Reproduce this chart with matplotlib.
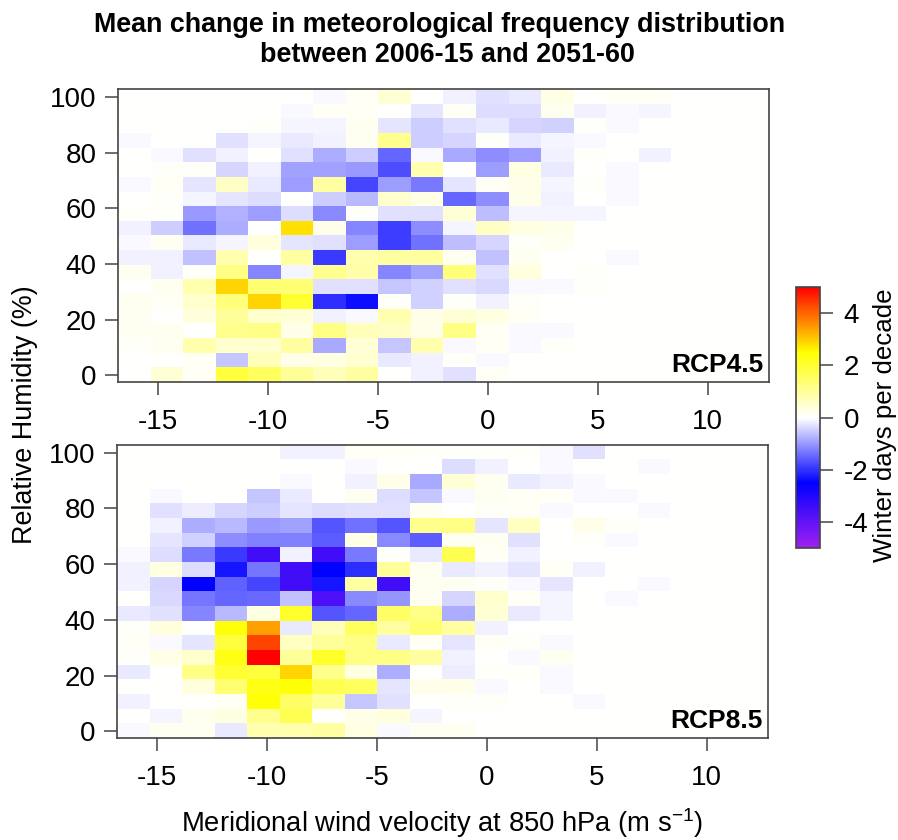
import numpy as np
import matplotlib
matplotlib.use("Agg")
import matplotlib.pyplot as plt
from matplotlib.colors import LinearSegmentedColormap, Normalize

plt.rcParams['font.family'] = ['Liberation Sans', 'DejaVu Sans']
plt.rcParams['mathtext.fontset'] = 'custom'
plt.rcParams['mathtext.rm'] = 'Liberation Sans'
plt.rcParams['mathtext.default'] = 'regular'
plt.rcParams['axes.unicode_minus'] = False

# bin edges of the 20 x 20 frequency grid
wind_edges = np.linspace(-16.82, 12.78, 21)
rh_edges = np.linspace(-2.4, 102.9, 21)

x_ticks = [-15, -10, -5, 0, 5, 10]
y_ticks = [0, 20, 40, 60, 80, 100]
cbar_ticks = [-4, -2, 0, 2, 4]

# rows run from top (high RH) to bottom, last 3 wind columns are empty
rcp45 = [
    [0, 0, 0, 0, 0, 0, -0.07, 0.1, 0.4, 0, -0.15, -0.3, -0.2, 0.25, 0, 0.08, 0.08],
    [0, 0, 0, 0.03, 0.02, -0.07, 0.1, 0.08, 0, -0.25, 0.1, -0.35, -0.35, 0.15, -0.12, -0.07, -0.1],
    [0, 0, 0, 0, 0.05, -0.08, -0.08, 0.15, -0.25, -0.5, -0.3, -0.2, -0.4, -0.45, 0.06, -0.06, 0],
    [-0.07, 0, 0.03, -0.3, -0.08, -0.2, -0.12, 0.15, 1.1, -0.5, -0.42, 0.05, -0.2, -0.1, -0.06, 0.03, 0],
    [0, -0.07, -0.28, -0.12, 0, -0.3, -0.8, -0.5, -1.5, -0.07, -0.85, -1.1, -0.95, -0.12, 0.06, 0, -0.12],
    [0, 0.07, 0.07, -0.4, -0.15, -0.9, -0.9, -1.0, -1.75, 0.8, 0, -0.95, 0.3, -0.2, 0, -0.07, 0],
    [-0.07, 0.1, -0.25, 0.55, -0.2, -0.95, 0.9, -1.8, -0.95, -1.3, -0.25, 0.08, 0.2, -0.08, 0.04, -0.07, 0],
    [0.03, 0.05, -0.08, -0.25, -0.35, 0.03, -0.5, -0.7, 0.5, 0.25, -1.5, -1.1, 0.2, -0.15, 0, -0.07, 0],
    [0.05, 0.05, -1.0, -0.75, -0.95, -0.35, -1.15, 0.04, -0.3, -0.3, 0.4, -0.65, -0.08, -0.1, -0.08, 0.03, 0],
    [-0.15, -0.5, -1.4, -0.8, 0, 2.8, 0.2, -1.2, -1.9, -1.1, -0.1, 0.55, 0.3, 0.2, 0, 0, 0],
    [-0.07, 0.12, -0.2, -0.08, 0.35, -0.25, -0.28, -0.95, -1.9, -1.4, -0.65, -0.4, 0.04, 0.12, 0.03, 0, 0],
    [-0.12, -0.12, -0.6, 0.8, 0.03, 0.9, -1.95, 0.8, 0.9, 0.9, 0.15, -0.6, 0.15, 0, 0.03, -0.07, 0],
    [0.12, -0.12, 0.06, 1.2, -1.2, -0.1, 1.1, 0.85, -1.2, -0.9, 1.3, -0.3, 0.35, 0, 0.04, 0, 0],
    [0, 0.15, 0.8, 2.9, 1.4, 1.4, -0.28, -0.3, -0.55, -0.45, -0.3, -0.38, -0.07, -0.07, 0.04, 0, 0],
    [0.12, 0.1, 0.5, 1.3, 2.9, 2.0, -2.05, -2.35, 0.04, -0.45, 0.05, -0.15, 0.07, 0.03, 0.03, 0, 0],
    [0.15, 0, 0.35, 1.0, 0.5, 0.4, -0.15, -0.07, 0.8, 0.2, 0.4, 0.3, 0.08, 0, 0, 0, 0],
    [0.15, 0.15, 0, 1.1, 1.2, 0.2, 1.2, 0.7, 0.55, 0.2, 1.2, 0.1, -0.06, -0.06, 0, 0, 0],
    [0.05, 0.15, 0.8, 0.5, 0.5, 0.9, -0.85, 0.4, -0.55, 0.8, -0.07, 0.08, -0.07, 0.04, 0, 0, 0],
    [0, 0, 0.1, -0.55, 0.7, 0.2, 0.3, 0.45, -0.2, -0.12, 0.07, -0.06, 0, 0, 0, 0, 0],
    [0, 0.4, 0.1, 1.9, 1.6, 1.0, 0.7, 0.9, 0, -0.12, -0.3, 0.08, 0.02, 0.03, 0.03, 0, 0],
]

rcp85 = [
    [0, 0, 0, 0.03, 0, -0.12, -0.12, 0.1, 0.1, 0.04, 0.05, 0.06, 0.04, -0.06, -0.28, 0, 0],
    [0, 0, 0, 0, 0, 0, 0.02, -0.05, 0, 0.02, -0.35, -0.15, 0, -0.04, 0, 0, -0.04],
    [0, 0, 0, 0, 0, -0.04, 0.02, -0.12, 0.2, -0.85, 0.4, 0.15, -0.2, -0.15, -0.06, 0, 0],
    [0, -0.04, 0, 0, -0.55, -0.2, 0.02, 0.12, -0.35, -0.55, -0.06, 0.12, 0.1, 0.08, -0.05, -0.05, 0],
    [0, -0.28, -0.18, -0.42, -0.5, -0.25, -0.35, -0.28, -0.28, 0.12, 0.03, 0.06, 0.08, -0.05, 0, 0.02, -0.05],
    [0, -0.15, -0.8, -0.7, -1.0, -0.9, -1.65, -1.4, -1.65, 1.1, 1.2, -0.25, 0.6, 0.03, 0.2, 0.05, 0],
    [0.02, -0.25, -0.45, -1.1, -1.25, -1.25, -1.6, 0.25, -1.15, -1.6, 0.15, 0.12, -0.28, 0.03, 0.06, -0.05, 0],
    [-0.06, -0.35, -1.3, -1.95, -3.5, -0.12, -3.5, -1.3, 0.05, -0.2, 1.7, 0.1, -0.15, 0, 0, 0, 0],
    [-0.12, 0.3, -0.35, -2.3, -1.35, -3.5, -2.5, -2.05, 1.0, 0.15, -0.2, -0.12, -0.25, 0.1, -0.15, 0, 0],
    [-0.12, -0.4, -2.5, -1.55, -1.8, -3.5, -2.3, 0.9, -3.5, 0.12, 0.15, 0.04, -0.05, -0.25, 0, 0, -0.04],
    [0, -0.38, -1.35, -1.5, -1.45, -0.6, -3.7, -1.15, -1.05, 0.15, -0.4, 0.5, 0.1, -0.1, 0.03, -0.05, 0],
    [-0.2, -0.28, -1.2, -0.7, 0.3, 2.1, -1.65, -1.5, 1.5, 1.2, -0.8, 0.4, -0.2, -0.1, 0.03, 0, 0],
    [0.04, 0.35, 0.02, 2.4, 3.4, -0.2, 0.7, 1.6, 0.9, 1.4, 0.9, -0.15, 0.03, 0, 0, 0, 0],
    [0.08, -0.06, -0.25, 1.9, 4.3, 0.6, 1.0, 1.2, -0.2, 0.1, -0.25, 0.1, 0.04, -0.05, 0, 0, 0],
    [0.06, 0.25, 0.5, 2.3, 5.0, 1.0, 2.1, 1.2, 1.2, 0.9, -0.15, 0, -0.05, 0.12, 0, 0, 0],
    [-0.2, 0, 1.2, 2.0, 1.9, 2.9, 1.1, 0.3, -0.8, 0.03, -0.18, 0.04, 0.06, -0.05, 0, 0, 0],
    [0, 0, 0.35, 1.4, 2.3, 2.45, 1.7, 1.6, -0.25, 0.2, 0.2, -0.05, 0, -0.05, 0, 0, 0],
    [-0.12, 0.03, 0.03, 0.08, 2.45, 1.5, 1.0, -0.55, -0.28, 0, 0.05, 0.06, 0.03, 0, -0.05, 0, 0],
    [0, -0.1, 0.18, 0.3, 1.1, 1.7, 0.02, 0.2, 0.35, -0.1, 0.03, 0.02, 0, 0.03, 0, 0, 0],
    [-0.05, 0.12, 0.12, -0.2, 0.8, 0.8, 0.9, 0.3, -0.05, 0.15, 0.15, 0, 0, 0, 0, 0, 0],
]

W, H = 898, 840
BOX = "#444444"
cmap = LinearSegmentedColormap.from_list("rcp", ["#A020F0", "#0000FF", "#FFFFFF", "#FFFF00", "#FF0000"], N=256)
norm = Normalize(-5, 5)


def px_axes(fig, left, top, right, bottom):
    return fig.add_axes([left / W, 1 - bottom / H, (right - left) / W, (bottom - top) / H])


def draw_panel(ax, rows, label):
    vals = np.zeros((20, 20))
    vals[:, :17] = np.array(rows)[::-1]
    mesh = ax.pcolormesh(wind_edges, rh_edges, vals, cmap=cmap, norm=norm, linewidth=0, rasterized=True)
    ax.set_xlim(wind_edges[0], wind_edges[-1])
    ax.set_ylim(rh_edges[0], rh_edges[-1])
    ax.set_xticks(x_ticks, [str(t) for t in x_ticks])
    ax.set_yticks(y_ticks, [str(t) for t in y_ticks])
    ax.tick_params(length=9.5, width=1.1, color=BOX, labelsize=20)
    ax.tick_params(axis="x", pad=10)
    ax.tick_params(axis="y", pad=6)
    for side in ax.spines.values():
        side.set_color(BOX)
        side.set_linewidth(1.2)
    ax.text(0.992, 0.016, label, transform=ax.transAxes, ha="right", va="bottom",
            fontsize=19, fontweight="bold")
    return mesh


fig = plt.figure(figsize=(W / 100, H / 100), dpi=100)

ax1 = px_axes(fig, 118, 89, 769, 382)
ax2 = px_axes(fig, 117, 444.5, 768, 738)
draw_panel(ax1, rcp45, "RCP4.5")
mesh = draw_panel(ax2, rcp85, "RCP8.5")

# title lines are not quite centred on each other in the original
fig.text(440 / W, 1 - 24.5 / H, "Mean change in meteorological frequency distribution",
         ha="center", va="center", fontsize=19.4, fontweight="bold")
fig.text(447 / W, 1 - 55.5 / H, "between 2006-15 and 2051-60",
         ha="center", va="center", fontsize=19.4, fontweight="bold")
fig.text(25 / W, 1 - 415 / H, "Relative Humidity (%)", rotation=90, ha="center", va="center", fontsize=19.4)
fig.text(442 / W, 1 - 823 / H, r"Meridional wind velocity at 850 hPa (m s$^{-1}$)",
         ha="center", va="center", fontsize=19.7)

cax = px_axes(fig, 796, 287, 819.5, 548)
cbar = fig.colorbar(mesh, cax=cax, ticks=cbar_ticks)
cbar.ax.tick_params(length=9.5, width=1.1, color=BOX, labelsize=20, pad=8)
cbar.outline.set_edgecolor(BOX)
cbar.outline.set_linewidth(1.2)
fig.text(885 / W, 1 - 425 / H, "Winter days per decade", rotation=90, ha="center", va="center", fontsize=18.6)

fig.savefig("out.png", dpi=100)
